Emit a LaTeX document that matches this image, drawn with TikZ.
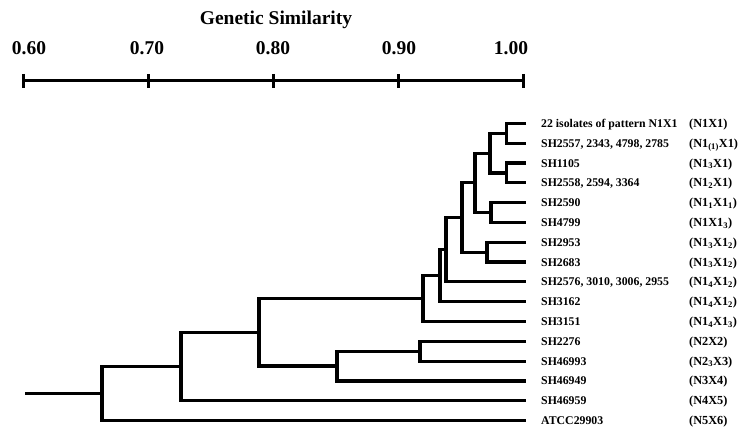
\documentclass[tikz,border=0pt]{standalone}
\usepackage{fontspec}
\setmainfont{Liberation Serif}

\tikzset{
    branch/.style={line width=3.2pt},
    scaleline/.style={line width=3pt},
    titlelabel/.style={inner sep=0pt, font=\fontsize{19.5}{22}\selectfont\bfseries},
    ticklabel/.style={inner sep=0pt, font=\fontsize{19.5}{22}\selectfont\bfseries},
    leaflabel/.style={anchor=base west, inner sep=0pt, yshift=-4pt, font=\fontsize{11.8}{14}\selectfont\bfseries},
    patlabel/.style={anchor=base west, inner sep=0pt, yshift=-4pt, font=\fontsize{12.3}{14}\selectfont\bfseries}
}

\begin{document}
\begin{tikzpicture}[x=1pt, y=-1pt]
    \useasboundingbox (0,0) rectangle (748,433);

    % 标题
    \node[titlelabel] (title) at (276,20) {Genetic Similarity};

    % 相似度刻度尺
    \draw[scaleline] (23,81) coordinate (s0) -- (523,81) coordinate (s1);
    \foreach \x in {23,148,273,398,523}
        \draw[scaleline] (\x,74) -- (\x,88);
    \node[ticklabel] (v60) at (29,48) {0.60};
    \node[ticklabel] (v70) at (147,48) {0.70};
    \node[ticklabel] (v80) at (273,48) {0.80};
    \node[ticklabel] (v90) at (399,48) {0.90};
    \node[ticklabel] (v100) at (511,48) {1.00};

    % 叶子端点与标签
    \foreach \i/\nm/\pt in {
        1/{22 isolates of pattern N1X1}/{(N1X1)},
        2/{SH2557, 2343, 4798, 2785}/{(N1\textsubscript{(1)}X1)},
        3/{SH1105}/{(N1\textsubscript{3}X1)},
        4/{SH2558, 2594, 3364}/{(N1\textsubscript{2}X1)},
        5/{SH2590}/{(N1\textsubscript{1}X1\textsubscript{1})},
        6/{SH4799}/{(N1X1\textsubscript{3})},
        7/{SH2953}/{(N1\textsubscript{3}X1\textsubscript{2})},
        8/{SH2683}/{(N1\textsubscript{3}X1\textsubscript{2})},
        9/{SH2576, 3010, 3006, 2955}/{(N1\textsubscript{4}X1\textsubscript{2})},
        10/{SH3162}/{(N1\textsubscript{4}X1\textsubscript{2})},
        11/{SH3151}/{(N1\textsubscript{4}X1\textsubscript{3})},
        12/{SH2276}/{(N2X2)},
        13/{SH46993}/{(N2\textsubscript{3}X3)},
        14/{SH46949}/{(N3X4)},
        15/{SH46959}/{(N4X5)},
        16/{ATCC29903}/{(N5X6)}}
    {
        \coordinate (l\i) at (526, {123.5+19.8*(\i-1)});
        \node[leaflabel] (t\i) at (541, {123.5+19.8*(\i-1)}) {\nm};
        \node[patlabel] (p\i) at (689, {123.5+19.8*(\i-1)}) {\pt};
    }

    % 内部节点
    \coordinate (n1) at (506.7,133.4);
    \coordinate (n2) at (506.7,173.0);
    \coordinate (n3) at (490,153.2);
    \coordinate (n4) at (491,212.6);
    \coordinate (n5) at (475,182.9);
    \coordinate (n6) at (487,252.2);
    \coordinate (n7) at (462,217.55);
    \coordinate (n8) at (446,249.7);
    \coordinate (n9) at (440,275.7);
    \coordinate (n10) at (423,298.6);
    \coordinate (n11) at (420,351.2);
    \coordinate (n12) at (337,366.05);
    \coordinate (n13) at (259,332.3);
    \coordinate (n14) at (181,366.5);
    \coordinate (n15) at (102,393.5);
    \coordinate (root) at (25,393.5);

    % 树枝
    \draw[branch] (l1) -| (n1) |- (l2);
    \draw[branch] (l3) -| (n2) |- (l4);
    \draw[branch] (n1) -| (n3) |- (n2);
    \draw[branch] (l5) -| (n4) |- (l6);
    \draw[branch] (n3) -| (n5) |- (n4);
    \draw[branch] (l7) -| (n6) |- (l8);
    \draw[branch] (n5) -| (n7) |- (n6);
    \draw[branch] (n7) -| (n8) |- (l9);
    \draw[branch] (n8) -| (n9) |- (l10);
    \draw[branch] (n9) -| (n10) |- (l11);
    \draw[branch] (l12) -| (n11) |- (l13);
    \draw[branch] (n11) -| (n12) |- (l14);
    \draw[branch] (n10) -| (n13) |- (n12);
    \draw[branch] (n13) -| (n14) |- (l15);
    \draw[branch] (n14) -| (n15) |- (l16);
    \draw[branch] (root) -- (n15);

\end{tikzpicture}
\end{document}
